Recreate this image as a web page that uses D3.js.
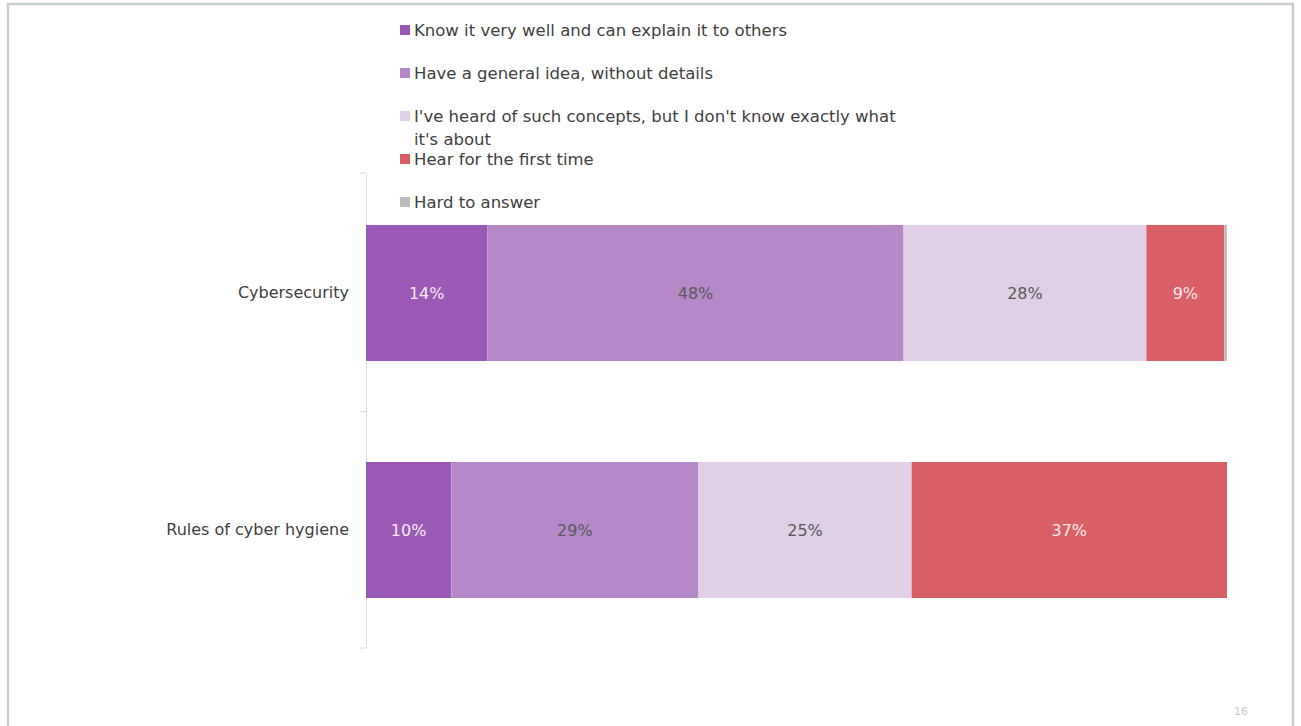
<!DOCTYPE html>
<html>
<head>
<meta charset="utf-8">
<script src="https://cdn.jsdelivr.net/npm/d3@7"></script>
<style>
  html, body { margin: 0; padding: 0; background: #fff; }
  svg { display: block; }
  text { font-family: "DejaVu Sans", sans-serif; }
</style>
</head>
<body>
<svg id="chart" width="1301" height="726"></svg>
<script>
// Awareness of the concepts, share of respondents (%)
const categories = ["Cybersecurity", "Rules of cyber hygiene"];
const seriesNames = [
  "Know it very well and can explain it to others",
  "Have a general idea, without details",
  "I've heard of such concepts, but I don't know exactly what it's about",
  "Hear for the first time",
  "Hard to answer"
];
const knowWell     = [14, 10];
const generalIdea  = [48, 29];
const heardOf      = [28, 25];
const firstTime    = [9, 37];
const hardToAnswer = [0.3, 0];
const seriesValues = [knowWell, generalIdea, heardOf, firstTime, hardToAnswer];
const seriesColors = ["#9b59b6", "#b588c8", "#e1cfe8", "#d96066", "#bdbdbd"];
const labelColors  = ["#f6eaf6", "#595959", "#595959", "#fbeaea", "#595959"];
const pageNumber = "16";

const svg = d3.select("#chart");

// slide frame
svg.append("path")
  .attr("d", "M8,730 V4 H1293 V730")
  .attr("fill", "none")
  .attr("stroke", "#c9cdd0")
  .attr("stroke-width", 2.5);

const rows = categories.map((c, i) => {
  const r = { category: c };
  seriesNames.forEach((s, j) => r[s] = seriesValues[j][i]);
  return r;
});

// 100% stacked bars
const stacked = d3.stack().keys(seriesNames).offset(d3.stackOffsetExpand)(rows);

const x = d3.scaleLinear().domain([0, 1]).range([366, 1227]);
const y = d3.scaleBand().domain(categories).range([173, 650]).paddingInner(0.426).paddingOuter(0.2194);

// category axis
const axis = d3.axisLeft(y).tickSize(0).tickPadding(17);
const axisG = svg.append("g").attr("transform", "translate(366,0)").call(axis);
axisG.select(".domain").remove();
axisG.selectAll("text")
  .attr("fill", "#404040")
  .attr("font-family", "DejaVu Sans, sans-serif")
  .attr("font-size", 16);

svg.append("line")
  .attr("x1", 366.5).attr("x2", 366.5)
  .attr("y1", 173).attr("y2", 648)
  .attr("stroke", "#d9d9d9");

// tick marks between categories
const boundaries = [173, (y(categories[0]) + y.bandwidth() + y(categories[1])) / 2, 648];
svg.append("g").selectAll("line").data(boundaries).join("line")
  .attr("x1", 360).attr("x2", 366)
  .attr("y1", d => d).attr("y2", d => d)
  .attr("stroke", "#d9d9d9");

const layers = svg.append("g").selectAll("g").data(stacked).join("g")
  .attr("fill", (d, i) => seriesColors[i]);

layers.selectAll("rect").data(d => d).join("rect")
  .attr("x", d => x(d[0]))
  .attr("y", d => y(d.data.category))
  .attr("width", d => Math.max(0, x(d[1]) - x(d[0])))
  .attr("height", y.bandwidth());

// value labels
stacked.forEach((layer, i) => {
  svg.append("g").selectAll("text")
    .data(layer.filter(d => d.data[layer.key] >= 1))
    .join("text")
    .attr("x", d => (x(d[0]) + x(d[1])) / 2)
    .attr("y", d => y(d.data.category) + y.bandwidth() / 2)
    .attr("dy", "0.4em")
    .attr("text-anchor", "middle")
    .attr("font-size", 16)
    .attr("fill", labelColors[i])
    .text(d => d3.format("d")(d.data[layer.key]) + "%");
});

// legend
const legendRows = [
  { lines: [seriesNames[0]], y: 30 },
  { lines: [seriesNames[1]], y: 73 },
  { lines: ["I've heard of such concepts, but I don't know exactly what", "it's about"], y: 116 },
  { lines: [seriesNames[3]], y: 159 },
  { lines: [seriesNames[4]], y: 202 }
];
const legend = svg.append("g");
legendRows.forEach((r, i) => {
  legend.append("rect")
    .attr("x", 400).attr("y", r.y - 5)
    .attr("width", 10).attr("height", 10)
    .attr("fill", seriesColors[i]);
  const t = legend.append("text")
    .attr("x", 414).attr("y", r.y)
    .attr("font-size", 16.5)
    .attr("fill", "#404040");
  r.lines.forEach((ln, k) => {
    t.append("tspan").attr("x", 414).attr("dy", k === 0 ? "0.35em" : 23).text(ln);
  });
});

// page number
svg.append("text")
  .attr("x", 1241).attr("y", 711)
  .attr("dy", "0.35em")
  .attr("text-anchor", "middle")
  .attr("font-size", 11)
  .attr("fill", "#c8c8c8")
  .text(pageNumber);
</script>
</body>
</html>
